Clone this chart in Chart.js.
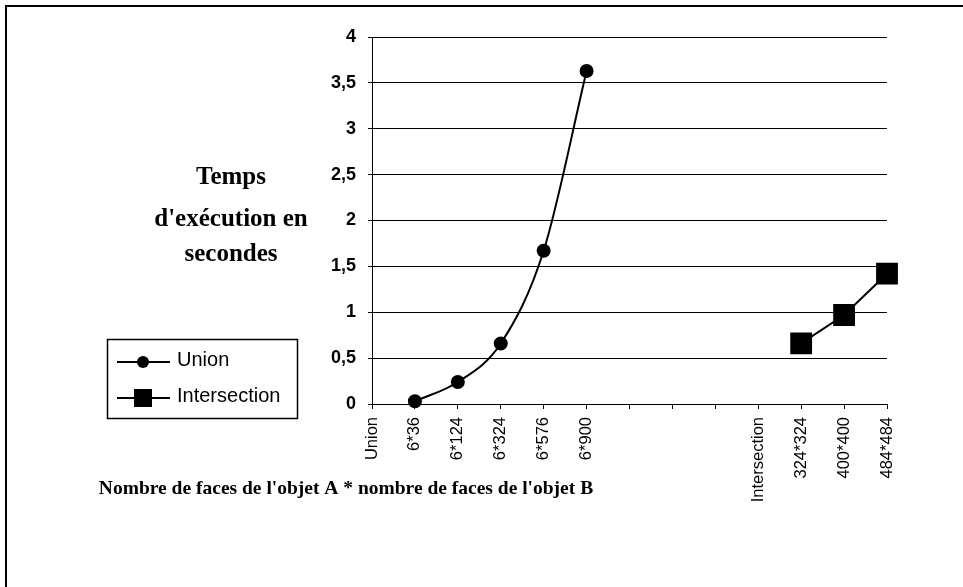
<!DOCTYPE html>
<html>
<head>
<meta charset="utf-8">
<script src="https://cdn.jsdelivr.net/npm/chart.js@4/dist/chart.umd.min.js"></script>
<style>
  html, body { margin: 0; padding: 0; background: #fff; }
  #wrap { position: relative; width: 963px; height: 587px; overflow: hidden; }
  #frame { position: absolute; left: 5px; top: 5px; right: -4px; bottom: -4px;
           border-top: 2px solid #000; border-left: 2px solid #000; }
  canvas { position: absolute; left: 0; top: 0; }
</style>
</head>
<body>
<div id="wrap">
  <div id="frame"></div>
  <canvas id="chart" width="963" height="587"></canvas>
</div>
<script>
// categories along the x axis (the blanks separate the two groups)
const categories = ["Union", "6*36", "6*124", "6*324", "6*576", "6*900", "", "", "",
                    "Intersection", "324*324", "400*400", "484*484"]
const unionTimes = [null, 0.03, 0.24, 0.66, 1.67, 3.63, null, null, null, null, null, null, null]
const intersectionTimes = [null, null, null, null, null, null, null, null, null, null, 0.66, 0.97, 1.42]
const yTicks = [0, 0.5, 1, 1.5, 2, 2.5, 3, 3.5, 4]

const yTitle = ["Temps", "d'exécution en", "secondes"]
const xTitle = "Nombre de faces de l'objet A * nombre de faces de l'objet B"
const legendItems = [
  { label: "Union", style: "circle" },
  { label: "Intersection", style: "rect" }
]

const SANS = "'Liberation Sans', Arial, sans-serif"
const SERIF = "'Liberation Serif', 'Times New Roman', serif"

// titles and the boxed legend are drawn by hand
const decorations = {
  id: "decorations",
  afterDraw(chart) {
    const ctx = chart.ctx
    ctx.save()
    ctx.fillStyle = "#000"
    ctx.textAlign = "center"
    ctx.textBaseline = "alphabetic"

    ctx.font = "bold 25px " + SERIF
    const lineY = [184, 226, 261]
    yTitle.forEach((t, i) => ctx.fillText(t, 231, lineY[i]))

    ctx.font = "bold 19.5px " + SERIF
    ctx.fillText(xTitle, 346, 494)

    // legend
    ctx.strokeStyle = "#000"
    ctx.lineWidth = 1.5
    ctx.strokeRect(107.5, 339.5, 190, 79)
    legendItems.forEach((item, i) => {
      const y = 362 + i * 36
      ctx.lineWidth = 2
      ctx.beginPath()
      ctx.moveTo(117, y)
      ctx.lineTo(170, y)
      ctx.stroke()
      if (item.style === "circle") {
        ctx.beginPath()
        ctx.arc(143, y, 6, 0, Math.PI * 2)
        ctx.fill()
      } else {
        ctx.fillRect(134, y - 9, 18, 18)
      }
      ctx.font = "20px " + SANS
      ctx.textAlign = "left"
      ctx.textBaseline = "middle"
      ctx.fillText(item.label, 177, y - 2)
    })
    ctx.restore()
  }
}

new Chart(document.getElementById("chart"), {
  type: "line",
  data: {
    labels: categories,
    datasets: [
      {
        label: "Union",
        data: unionTimes,
        borderColor: "#000",
        backgroundColor: "#000",
        borderWidth: 2,
        pointStyle: "circle",
        pointRadius: 6,
        cubicInterpolationMode: "monotone",
        spanGaps: false,
        clip: false
      },
      {
        label: "Intersection",
        data: intersectionTimes,
        borderColor: "#000",
        backgroundColor: "#000",
        borderWidth: 2,
        pointStyle: "rect",
        pointRadius: 14,
        tension: 0,
        spanGaps: false,
        clip: false
      }
    ]
  },
  options: {
    responsive: false,
    animation: false,
    events: [],
    layout: { padding: { left: 0, right: 76, top: 37, bottom: 0 } },
    plugins: {
      legend: { display: false },
      tooltip: { enabled: false }
    },
    scales: {
      x: {
        offset: false,
        afterFit: (s) => { s.height = 183 },
        grid: { drawOnChartArea: false, drawTicks: true, tickLength: 5, color: "#000", lineWidth: 1 },
        border: { display: true, color: "#000", width: 1 },
        ticks: {
          autoSkip: false,
          minRotation: 90,
          maxRotation: 90,
          padding: 8,
          color: "#000",
          font: { family: SANS, size: 16.5 }
        }
      },
      y: {
        min: 0,
        max: 4,
        afterFit: (s) => { s.width = 372 },
        afterBuildTicks: (s) => { s.ticks = yTicks.map(v => ({ value: v })) },
        grid: { color: "#000", lineWidth: 1, drawTicks: true, tickLength: 4 },
        border: { display: true, color: "#000", width: 1 },
        ticks: {
          padding: 12,
          color: "#000",
          font: { family: SANS, size: 18, weight: "bold" },
          callback: (v) => String(v).replace(".", ",")
        }
      }
    }
  },
  plugins: [decorations]
})
</script>
</body>
</html>
